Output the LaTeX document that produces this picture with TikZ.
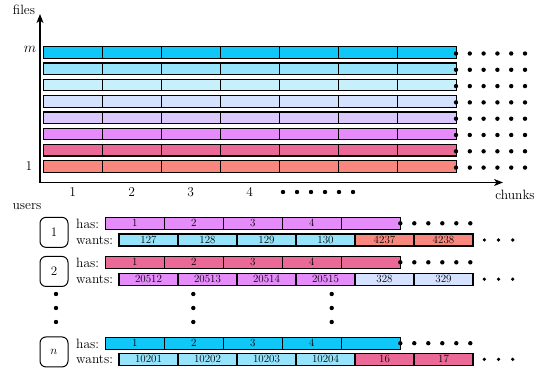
\documentclass[tikz,border=0pt]{standalone}
\usetikzlibrary{arrows.meta}
\definecolor{cM}{RGB}{15,200,248}
\definecolor{cB}{RGB}{150,228,252}
\definecolor{cC}{RGB}{200,240,252}
\definecolor{cD}{RGB}{212,225,255}
\definecolor{cE}{RGB}{218,200,252}
\definecolor{cF}{RGB}{230,140,250}
\definecolor{cG}{RGB}{235,105,150}
\definecolor{cH}{RGB}{250,135,125}
\tikzset{
  chunkbox/.style={draw=black, line width=1.2pt, inner sep=0pt, minimum width=59pt, minimum height=11.5pt, font=\fontsize{11}{12}\selectfont},
  bigdot/.style={circle, fill=black, inner sep=0pt, minimum size=4.4pt},
  smalldot/.style={circle, fill=black, inner sep=0pt, minimum size=3.6pt},
  userbox/.style={draw=black, line width=1pt, rounded corners=6pt, minimum width=28pt, minimum height=30pt, inner sep=0pt, font=\fontsize{13}{15}\selectfont},
  lab/.style={inner sep=0pt, font=\fontsize{13.5}{15}\selectfont},
  axis/.style={line width=1.2pt, -{Stealth[length=9pt,width=7pt,inset=2.5pt]}}
}
\begin{document}
\begin{tikzpicture}[x=1pt,y=-1pt]
\useasboundingbox (0,0) rectangle (545,372);
% axes
\coordinate (O) at (40,182.5);
\coordinate (ytip) at (40,14);
\coordinate (xtip) at (503,182.5);
\draw[axis] (O) -- (ytip);
\draw[axis] (O) -- (xtip);
\node[lab] (files) at (24,10) {files};
\node[lab] (chunks) at (515,195) {chunks};
\node[lab] (mlab) at (30,49) {$m$};
\node[lab] (onelab) at (29,166) {1};
% file rows
\foreach \i/\col in {0/cM,1/cB,2/cC,3/cD,4/cE,5/cF,6/cG,7/cH}{
  \foreach \k in {0,...,6}{
    \node[chunkbox, fill=\col] (f\i c\k) at ({72.8+59*\k},{52.5+16.3*\i}) {};
  }
  \foreach \d in {0,...,5}{
    \node[bigdot] (fd\i d\d) at ({456+13.8*\d},{53.5+16.3*\i}) {};
  }
}
% x labels
\foreach \k in {1,...,4}{
  \node[lab] (xl\k) at ({72.8+59*(\k-1)},192) {\k};
}
\foreach \d in {0,...,5}{
  \node[bigdot] (xd\d) at ({283+14*\d},192) {};
}
\node[lab] (users) at (27,207) {users};
% users
\foreach \u/\lbl/\yh/\yw/\hc/\wa/\wb/\ta/\tb/\tc/\td/\te/\tf in {
  1/1/223.3/240/cF/cB/cH/127/128/129/130/4237/4238,
  2/2/262.3/279.2/cG/cF/cD/20512/20513/20514/20515/328/329,
  3/$n$/343.2/359.3/cM/cB/cG/10201/10202/10203/10204/16/17}{
  \node[userbox] (u\u) at (54,{(\yh+\yw)/2+0.7}) {\lbl};
  \node[lab, anchor=west] (has\u) at (76,{\yh+1}) {has:};
  \node[lab, anchor=west] (wants\u) at (76,{\yw+0.5}) {wants:};
  \foreach \k/\t in {0/1,1/2,2/3,3/4,4/{}}{
    \node[chunkbox, minimum height=12pt, fill=\hc] (h\u c\k) at ({134.8+59*\k},\yh) {\raisebox{1.5pt}{\t}};
  }
  \foreach \k/\t in {0/\ta,1/\tb,2/\tc,3/\td}{
    \node[chunkbox, minimum height=12pt, fill=\wa] (w\u c\k) at ({148.5+59*\k},\yw) {\t};
  }
  \foreach \k/\t in {4/\te,5/\tf}{
    \node[chunkbox, minimum height=12pt, fill=\wb] (w\u c\k) at ({148.5+59*\k},\yw) {\t};
  }
  \foreach \d in {0,...,5}{
    \node[bigdot] (hd\u d\d) at ({400.3+14*\d},\yh) {};
  }
  \foreach \d in {0,...,2}{
    \node[smalldot] (wd\u d\d) at ({484.3+14.2*\d},\yw) {};
  }
}
% vertical dots
\foreach \x/\n in {56/a,193.3/b,331.7/c}{
  \foreach \d in {0,1,2}{
    \node[bigdot] (v\n\d) at (\x,{294+14*\d}) {};
  }
}
\end{tikzpicture}
\end{document}
